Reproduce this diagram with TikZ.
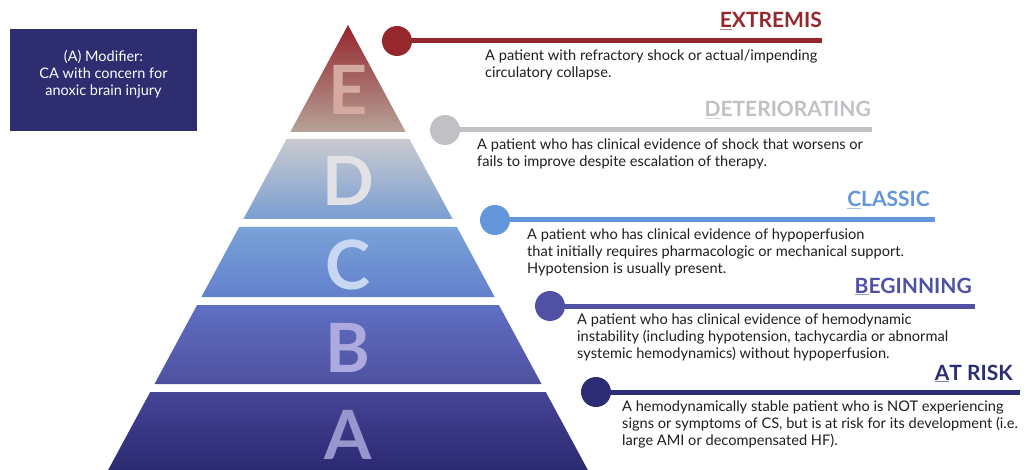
\documentclass[tikz,border=0pt]{standalone}
\usepackage{fontspec}
\setmainfont{Lato}
\usetikzlibrary{positioning}
\definecolor{exred}{RGB}{150,40,45}
\definecolor{degray}{RGB}{192,192,197}
\definecolor{clblue}{RGB}{100,150,220}
\definecolor{bgviolet}{RGB}{80,80,165}
\definecolor{arnavy}{RGB}{45,45,118}
\definecolor{modnavy}{RGB}{45,45,112}
\definecolor{bodytext}{RGB}{30,30,30}
\definecolor{letE}{RGB}{212,170,160}
\definecolor{letD}{RGB}{226,226,230}
\definecolor{letC}{RGB}{200,216,242}
\definecolor{letB}{RGB}{172,170,222}
\definecolor{letA}{RGB}{152,150,204}
\tikzset{
	stagedot/.style={circle,fill=#1,minimum size=30pt,inner sep=0pt},
	stagebar/.style={line width=5pt,draw=#1},
	stagetitle/.style={font=\fontsize{21}{21}\selectfont\bfseries,text=#1,anchor=base east,inner sep=0pt},
	stagedesc/.style={font=\fontsize{14.6}{17}\selectfont,text=bodytext,align=left,anchor=north west,inner sep=0pt},
	tierletter/.style={font=\fontsize{68}{68}\selectfont\bfseries,text=#1,inner sep=0pt},
	modbox/.style={rectangle,fill=modnavy,minimum width=187pt,minimum height=102pt,inner sep=0pt}
}
\newcommand{\firstu}[3]{{\color{#1!60!white}\underline{\color{#1}#2}}#3}

\begin{document}
\begin{tikzpicture}[x=1pt,y=-1pt]
	\useasboundingbox (0,0) rectangle (1027,470);
	% pyramid tiers
	\foreach \yt/\yb/\ctop/\cbot in {
		25/132/{148,38,45}/{182,162,152},
		139/219/{202,202,207}/{122,158,210},
		227/297/{122,163,216}/{98,128,204},
		305/384/{95,112,194}/{80,80,160},
		392/470/{70,68,150}/{44,42,114}}{
		\definecolor{tiertop}{RGB}{\ctop}
		\definecolor{tierbot}{RGB}{\cbot}
		\shade[top color=tiertop,bottom color=tierbot]
			({348-0.539*(\yt-25)},\yt) -- ({348+0.539*(\yt-25)},\yt) --
			({348+0.539*(\yb-25)},\yb) -- ({348-0.539*(\yb-25)},\yb) -- cycle;
	}
	\node[tierletter=letE] (lE) at (348,90) {E};
	\node[tierletter=letD] (lD) at (348,181) {D};
	\node[tierletter=letC] (lC) at (348,265) {C};
	\node[tierletter=letB] (lB) at (348,348) {B};
	\node[tierletter=letA] (lA) at (348,435) {A};

	% modifier box
	\node[modbox] (mod) at (103.5,80) {};
	\node[text=white,font=\fontsize{14.5}{17}\selectfont,align=center] (modtext)
		at ([yshift=6pt]mod.center) {(A) Modifier:\\CA with concern for\\anoxic brain injury};

	% stages
	\node[stagedot=exred] (ex) at (397,41) {};
	\coordinate (exEnd) at (822,41);
	\draw[stagebar=exred] (ex.center) -- (exEnd);
	\node[stagetitle=exred] (exT) at (822,28) {\firstu{exred}{E}{XTREMIS}};
	\node[stagedesc] (exD) at (485,50) {A patient with refractory shock or actual/impending\\circulatory collapse.};

	\node[stagedot=degray] (de) at (445,130) {};
	\coordinate (deEnd) at (872,130);
	\draw[stagebar=degray] (de.center) -- (deEnd);
	\node[stagetitle=degray] (deT) at (871,117) {\firstu{degray}{D}{ETERIORATING}};
	\node[stagedesc] (deD) at (477,139) {A patient who has clinical evidence of shock that worsens or\\fails to improve despite escalation of therapy.};

	\node[stagedot=clblue] (cl) at (495,220) {};
	\coordinate (clEnd) at (935,220);
	\draw[stagebar=clblue] (cl.center) -- (clEnd);
	\node[stagetitle=clblue] (clT) at (930,207) {\firstu{clblue}{C}{LASSIC}};
	\node[stagedesc] (clD) at (527,229) {A patient who has clinical evidence of hypoperfusion\\that initially requires pharmacologic or mechanical support.\\Hypotension is usually present.};

	\node[stagedot=bgviolet] (bg) at (550,306) {};
	\coordinate (bgEnd) at (975,306);
	\draw[stagebar=bgviolet] (bg.center) -- (bgEnd);
	\node[stagetitle=bgviolet] (bgT) at (972,293) {\firstu{bgviolet}{B}{EGINNING}};
	\node[stagedesc] (bgD) at (577,314) {A patient who has clinical evidence of hemodynamic\\instability (including hypotension, tachycardia or abnormal\\systemic hemodynamics) without hypoperfusion.};

	\node[stagedot=arnavy] (ar) at (596,392) {};
	\coordinate (arEnd) at (1020,392);
	\draw[stagebar=arnavy] (ar.center) -- (arEnd);
	\node[stagetitle=arnavy] (arT) at (1013,380) {\firstu{arnavy}{A}{T RISK}};
	\node[stagedesc] (arD) at (622,401) {A hemodynamically stable patient who is NOT experiencing\\signs or symptoms of CS, but is at risk for its development (i.e.\\large AMI or decompensated HF).};
\end{tikzpicture}
\end{document}
